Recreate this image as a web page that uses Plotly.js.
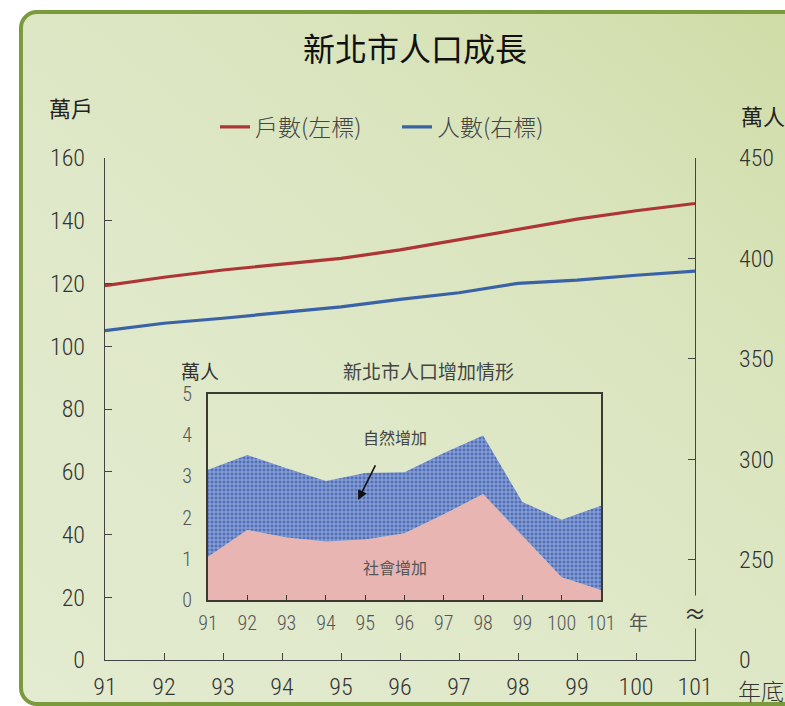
<!DOCTYPE html>
<html>
<head>
<meta charset="utf-8">
<script src="https://cdn.plot.ly/plotly-3.0.1.min.js"></script>
<style>
  html, body { margin:0; padding:0; background:#ffffff; width:785px; height:706px; overflow:hidden; }
  #frame { position:absolute; left:19px; top:10px; width:820px; height:688px;
           border:4px solid #7a9a3c; border-radius:18px;
           background: linear-gradient(to bottom left, #cedba4 0%, #d9e4bc 30%, #dfe8c8 60%, #e3ebd0 100%); }
  #chart { position:absolute; left:0; top:0; width:785px; height:706px; }
</style>
</head>
<body>
<div id="frame"></div>
<div id="chart"></div>
<script>
// ---- data ----
const years = [91, 92, 93, 94, 95, 96, 97, 98, 99, 100, 101];
const households = [119.3, 122.0, 124.3, 126.2, 128.0, 130.7, 133.9, 137.3, 140.5, 143.2, 145.5]; // 萬戶
const population = [364.0, 367.7, 370.2, 372.9, 375.9, 379.6, 382.9, 387.6, 389.2, 391.6, 393.7]; // 萬人
const socialIncrease = [1.05, 1.70, 1.52, 1.42, 1.47, 1.62, 2.08, 2.57, 1.56, 0.55, 0.24];
const naturalIncrease = [2.11, 1.82, 1.68, 1.47, 1.61, 1.48, 1.49, 1.42, 0.82, 1.40, 2.05];
const leftTicks = [0, 20, 40, 60, 80, 100, 120, 140, 160];
const rightTickVals = [200, 250, 300, 350, 400, 450];
const rightTickText = ['0', '250', '300', '350', '400', '450'];
const insetYTicks = [0, 1, 2, 3, 4, 5];

const NUM = 'Roboto Condensed, Liberation Sans Narrow, Roboto, sans-serif';
const CJK = 'Noto Sans CJK TC, Noto Sans CJK SC, sans-serif';

const traces = [
  { x: years, y: households, name: '戶數(左標)', type: 'scatter', mode: 'lines',
    line: { color: '#ad3535', width: 3.2 }, xaxis: 'x', yaxis: 'y' },
  { x: years, y: population, name: '人數(右標)', type: 'scatter', mode: 'lines',
    line: { color: '#3a62a6', width: 3.2 }, xaxis: 'x', yaxis: 'y2' },
  { x: years, y: socialIncrease, name: '社會增加', type: 'scatter', mode: 'lines',
    stackgroup: 'inc', line: { width: 0 }, fillcolor: '#e8b5b3', showlegend: false,
    xaxis: 'x2', yaxis: 'y3' },
  { x: years, y: naturalIncrease, name: '自然增加', type: 'scatter', mode: 'lines',
    stackgroup: 'inc', line: { width: 0 }, fillcolor: '#5572b8',
    fillpattern: { shape: '+', bgcolor: '#5270b6', fgcolor: '#9bb0e2', size: 4, solidity: 0.4 },
    showlegend: false, xaxis: 'x2', yaxis: 'y3' }
];

const L = 105, R = 695, T = 158, B = 660;
const px = v => (v - L) / (R - L);
const py = v => (B - v) / (B - T);

const numFont = (size, color) => ({ family: NUM, size: size, color: color, weight: 300 });

const layout = {
  width: 785, height: 706,
  margin: { l: L, r: 785 - R, t: T, b: 706 - B },
  paper_bgcolor: 'rgba(0,0,0,0)', plot_bgcolor: 'rgba(0,0,0,0)',
  font: { family: CJK, color: '#333' },
  title: { text: '新北市人口成長', xref: 'paper', x: px(415), xanchor: 'center',
           yref: 'container', y: 1 - 50 / 706, yanchor: 'middle',
           font: { family: CJK, size: 32, color: '#111' } },
  showlegend: true,
  legend: { orientation: 'h', x: px(215), xanchor: 'left', y: py(127), yanchor: 'middle',
            font: { family: CJK, size: 23, color: '#444', weight: 300 }, bgcolor: 'rgba(0,0,0,0)',
            itemwidth: 30, entrywidth: 137, entrywidthmode: 'pixels',
            tracegroupgap: 0, traceorder: 'normal' },
  xaxis: { domain: [0, 1], range: [91, 101], tickvals: years, showgrid: false, zeroline: false,
           showline: true, linecolor: '#444', linewidth: 1.2, ticks: 'inside', ticklen: 7,
           tickcolor: '#444', tickfont: numFont(24, '#333'), ticklabelstandoff: 5, anchor: 'y' },
  yaxis: { domain: [0, 1], range: [0, 160], tickvals: leftTicks, showgrid: false, zeroline: false,
           showline: true, linecolor: '#444', linewidth: 1.2, ticks: 'inside', ticklen: 7,
           tickcolor: '#444', tickfont: numFont(24, '#333'),
           ticklabelstandoff: 14, anchor: 'x' },
  yaxis2: { overlaying: 'y', side: 'right', range: [200, 450], tickvals: rightTickVals,
            ticktext: rightTickText, showgrid: false, zeroline: false, showline: true,
            linecolor: '#444', linewidth: 1.2, ticks: 'inside', ticklen: 7, tickcolor: '#444',
            tickfont: numFont(24, '#333'), ticklabelstandoff: 38, anchor: 'x' },
  xaxis2: { domain: [px(208), px(601)], range: [91, 101], tickvals: years, anchor: 'y3',
            showgrid: false, zeroline: false, showline: true, mirror: true, linecolor: '#3a3a30',
            linewidth: 2, ticks: 'inside', ticklen: 5, tickcolor: '#3a3a30',
            tickfont: numFont(20, '#555'), ticklabelstandoff: 4 },
  yaxis3: { domain: [py(600), py(394)], range: [0, 5], tickvals: insetYTicks, anchor: 'x2',
            showgrid: false, zeroline: false, showline: true, mirror: true, linecolor: '#3a3a30',
            linewidth: 2, ticks: '', tickfont: numFont(20, '#555'),
            ticklabelstandoff: 10 },
  annotations: [
    { text: '萬戶', xref: 'paper', yref: 'paper', x: px(71), y: py(107), showarrow: false,
      xanchor: 'center', yanchor: 'middle', font: { family: CJK, size: 22, color: '#222' } },
    { text: '萬人', xref: 'paper', yref: 'paper', x: px(739), y: py(115), showarrow: false,
      xanchor: 'left', yanchor: 'middle', font: { family: CJK, size: 22, color: '#222' } },
    { text: '年底', xref: 'paper', yref: 'paper', x: px(736), y: py(690), showarrow: false,
      xanchor: 'left', yanchor: 'middle', font: { family: CJK, size: 23, color: '#333', weight: 300 } },
    { text: '≈', xref: 'paper', yref: 'paper', x: 1, y: py(612), showarrow: false,
      xanchor: 'center', yanchor: 'middle', bgcolor: '#dce6c3', borderpad: 0,
      font: { family: 'Noto Sans CJK TC, DejaVu Sans, sans-serif', size: 22, color: '#333' } },
    { text: '萬人', xref: 'paper', yref: 'paper', x: px(200), y: py(370), showarrow: false,
      xanchor: 'center', yanchor: 'middle', font: { family: CJK, size: 19, color: '#333' } },
    { text: '新北市人口增加情形', xref: 'paper', yref: 'paper', x: px(428), y: py(370), showarrow: false,
      xanchor: 'center', yanchor: 'middle', font: { family: CJK, size: 19, color: '#444' } },
    { text: '年', xref: 'paper', yref: 'paper', x: px(638), y: py(621), showarrow: false,
      xanchor: 'center', yanchor: 'middle', font: { family: CJK, size: 19, color: '#555' } },
    { text: '自然增加', xref: 'x2', yref: 'y3', x: 95.76, y: 3.96, showarrow: false,
      font: { family: CJK, size: 16, color: '#444' } },
    { text: '社會增加', xref: 'x2', yref: 'y3', x: 95.76, y: 0.80, showarrow: false,
      font: { family: CJK, size: 16, color: '#555' } },
    { text: '', xref: 'x2', yref: 'y3', x: 94.82, y: 2.43, ax: 18, ay: -36, showarrow: true,
      arrowhead: 2, arrowsize: 1.2, arrowwidth: 1.6, arrowcolor: '#111' }
  ]
};

Plotly.newPlot('chart', traces, layout, { staticPlot: true, displayModeBar: false });
</script>
</body>
</html>
